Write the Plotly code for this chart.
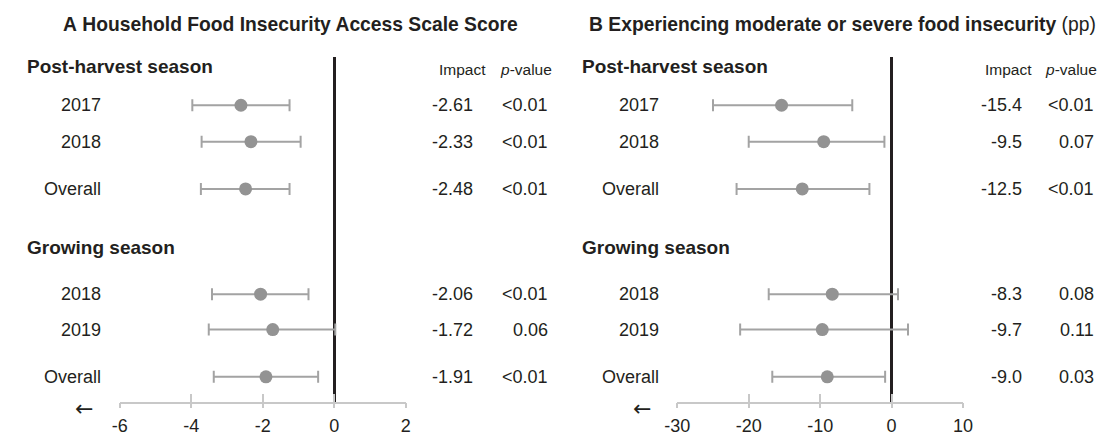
import plotly.graph_objects as go

# ---------------- data ----------------
row_labels = ["2017", "2018", "Overall", "2018", "2019", "Overall"]
section_labels = ["Post-harvest season", "Growing season"]

a_est = [-2.61, -2.33, -2.48, -2.06, -1.72, -1.91]
a_lo = [-3.97, -3.71, -3.73, -3.42, -3.51, -3.37]
a_hi = [-1.25, -0.94, -1.25, -0.72, 0.03, -0.45]
a_p = ["<0.01", "<0.01", "<0.01", "<0.01", "0.06", "<0.01"]

b_est = [-15.4, -9.5, -12.5, -8.3, -9.7, -9.0]
b_lo = [-25.0, -20.0, -21.7, -17.2, -21.2, -16.7]
b_hi = [-5.5, -1.0, -3.1, 0.9, 2.3, -0.9]
b_p = ["<0.01", "0.07", "<0.01", "0.08", "0.11", "0.03"]

a_ticks = [-6, -4, -2, 0, 2]
b_ticks = [-30, -20, -10, 0, 10]

title_a = "<b>A</b> <b>Household Food Insecurity Access Scale Score</b>"
title_b = "<b>B</b> <b>Experiencing moderate or severe food insecurity</b> (pp)"

# ---------------- layout positions (pixels) ----------------
W, H = 1114, 436
row_y = [107, 144, 192, 299, 335, 383]
section_y = [68, 252]
y_top, y_bot = 58, 409

TXT = "#231f20"
DOT = "#939393"
WHISK = "#a3a3a3"
AXC = "#c8c8c8"
FONT = "Liberation Sans, Arial, sans-serif"

panels = [
    dict(est=a_est, lo=a_lo, hi=a_hi, p=a_p, ticks=a_ticks, fmt="{:.2f}", x0=109, x1=401,
         title=title_a, title_x=283, sec_x=12, lab_x=92, imp_x=472, p_x=548,
         imp_h=459, p_h=524, arrow_x=72, xa="x", xo="x3"),
    dict(est=b_est, lo=b_lo, hi=b_hi, p=b_p, ticks=b_ticks, fmt="{:.1f}", x0=678.3, x1=970,
         title=title_b, title_x=847, sec_x=579, lab_x=662, imp_x=1032, p_x=1106,
         imp_h=1016, p_h=1080, arrow_x=642, xa="x2", xo="x4"),
]

fig = go.Figure()
annotations = []

def px(x):
    return x / W

def py(y):
    return 1 - y / H

for i, P in enumerate(panels):
    est, lo, hi = P["est"], P["lo"], P["hi"]
    fig.add_trace(go.Scatter(
        x=est, y=row_y, mode="markers", xaxis=P["xa"], yaxis="y",
        marker=dict(size=13, color=DOT),
        error_x=dict(type="data", symmetric=False,
                     array=[h - e for h, e in zip(hi, est)],
                     arrayminus=[e - l for e, l in zip(est, lo)],
                     color=WHISK, thickness=2, width=6),
        showlegend=False, hoverinfo="skip"))
    # invisible trace that activates the overlay axis (outer tick stubs)
    fig.add_trace(go.Scatter(x=est, y=row_y, mode="markers", xaxis=P["xo"], yaxis="y",
                             marker=dict(opacity=0), showlegend=False, hoverinfo="skip"))

    annotations.append(dict(text=P["title"], x=px(P["title_x"]), y=py(25), xref="paper", yref="paper",
                            xanchor="center", yanchor="middle", showarrow=False,
                            font=dict(size=19.3, color=TXT, family=FONT)))
    for s, sy in zip(section_labels, section_y):
        annotations.append(dict(text="<b>" + s + "</b>", x=px(P["sec_x"]), y=sy, xref="paper", yref="y",
                                xanchor="left", yanchor="middle", showarrow=False,
                                font=dict(size=19, color=TXT, family=FONT)))
    annotations.append(dict(text="Impact", x=px(P["imp_h"]), y=71, xref="paper", yref="y",
                            xanchor="center", yanchor="middle", showarrow=False,
                            font=dict(size=15.5, color=TXT, family=FONT)))
    annotations.append(dict(text="<i>p</i>-value", x=px(P["p_h"]), y=71, xref="paper", yref="y",
                            xanchor="center", yanchor="middle", showarrow=False,
                            font=dict(size=15.5, color=TXT, family=FONT)))
    for lab, ry, e, pv in zip(row_labels, row_y, est, P["p"]):
        annotations.append(dict(text=lab, x=px(P["lab_x"]), y=ry, xref="paper", yref="y",
                                xanchor="right", yanchor="middle", showarrow=False,
                                font=dict(size=18, color=TXT, family=FONT)))
        annotations.append(dict(text=P["fmt"].format(e), x=px(P["imp_x"]), y=ry, xref="paper", yref="y",
                                xanchor="right", yanchor="middle", showarrow=False,
                                font=dict(size=18, color=TXT, family=FONT)))
        annotations.append(dict(text=pv, x=px(P["p_x"]), y=ry, xref="paper", yref="y",
                                xanchor="right", yanchor="middle", showarrow=False,
                                font=dict(size=18, color=TXT, family=FONT)))
    annotations.append(dict(text="←", x=px(P["arrow_x"]), y=py(415), xref="paper", yref="paper",
                            xanchor="center", yanchor="middle", showarrow=False,
                            font=dict(size=22, color=TXT, family="DejaVu Sans")))

def xaxis_main(P):
    return dict(domain=[P["x0"] / W, P["x1"] / W], range=[P["ticks"][0], P["ticks"][-1]],
                anchor="y", showgrid=False, zeroline=True, zerolinecolor=TXT, zerolinewidth=2.5,
                showline=True, linecolor=AXC, linewidth=2,
                ticks="inside", ticklen=8, tickwidth=2, tickcolor=AXC,
                tickmode="array", tickvals=P["ticks"], ticktext=[str(t) for t in P["ticks"]],
                ticklabelstandoff=6,
                tickfont=dict(size=18, color=TXT, family=FONT), fixedrange=True)

def xaxis_overlay(P, over):
    return dict(overlaying=over, anchor="y", range=[P["ticks"][0], P["ticks"][-1]],
                showgrid=False, zeroline=False, showline=False,
                ticks="outside", ticklen=5, tickwidth=2, tickcolor=AXC,
                tickmode="array", tickvals=P["ticks"], showticklabels=False, fixedrange=True)

fig.update_layout(
    width=W, height=H, margin=dict(l=0, r=0, t=0, b=0),
    paper_bgcolor="white", plot_bgcolor="rgba(0,0,0,0)",
    font=dict(family=FONT, color=TXT),
    xaxis=xaxis_main(panels[0]),
    xaxis2=xaxis_main(panels[1]),
    xaxis3=xaxis_overlay(panels[0], "x"),
    xaxis4=xaxis_overlay(panels[1], "x2"),
    yaxis=dict(domain=[(H - y_bot) / H, (H - y_top) / H], range=[y_bot, y_top],
               visible=False, showgrid=False, zeroline=False, fixedrange=True),
    annotations=annotations,
    showlegend=False,
)

fig.write_html("out.html", config={"displayModeBar": False},
               post_script="document.body.style.margin='0';document.body.style.padding='0';")
